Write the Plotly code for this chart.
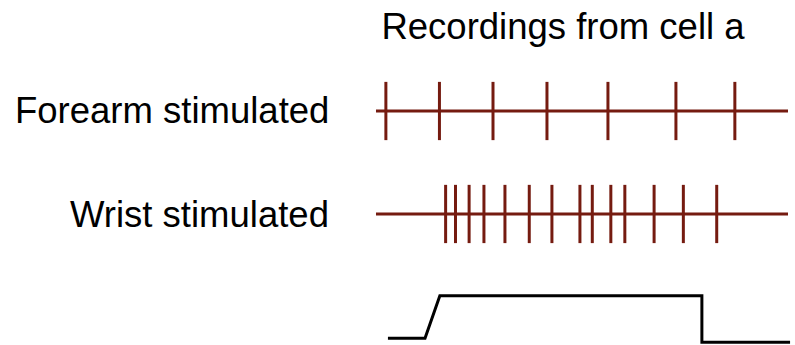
import plotly.graph_objects as go

# spike times (ms), trace runs 0..100 ms
trace_span = [0, 100]
forearm_spikes = [2.4, 15.4, 28.4, 41.5, 56.3, 72.8, 87.1]
wrist_spikes = [16.9, 19.3, 22.6, 26.2, 31.3, 37.2, 42.7, 49.5, 52.5,
                57.0, 60.4, 67.5, 74.6, 82.7]

# stimulus waveform (time, level)
stim_t = [2.9, 11.9, 15.5, 79.1, 79.1, 100.5]
stim_v = [0, 0, 1, 1, -0.095, -0.095]

title_text = "Recordings from cell a"
row_labels = ["Forearm stimulated", "Wrist stimulated"]

SPIKE = "#751b10"
FONT = "Liberation Sans, Arial, sans-serif"
FSIZE = 36.5


def spike_xy(times):
    xs, ys = [], []
    for t in times:
        xs += [t, t, None]
        ys += [-1, 1, None]
    return xs, ys


fig = go.Figure()

for spikes, yax in [(forearm_spikes, "y"), (wrist_spikes, "y2")]:
    fig.add_trace(go.Scatter(
        x=trace_span, y=[0, 0], mode="lines", yaxis=yax,
        line=dict(color=SPIKE, width=3), hoverinfo="skip"))
    sx, sy = spike_xy(spikes)
    fig.add_trace(go.Scatter(
        x=sx, y=sy, mode="lines", yaxis=yax,
        line=dict(color=SPIKE, width=3), hoverinfo="skip"))

fig.add_trace(go.Scatter(
    x=stim_t, y=stim_v, mode="lines", yaxis="y3",
    line=dict(color="black", width=3), hoverinfo="skip"))

hidden = dict(visible=False, showgrid=False, zeroline=False, fixedrange=True)

fig.update_layout(
    width=795, height=345,
    margin=dict(l=0, r=0, t=0, b=0),
    paper_bgcolor="white", plot_bgcolor="white",
    showlegend=False,
    font=dict(family=FONT, size=FSIZE, color="black"),
    xaxis=dict(range=[-91.26, 101.7], **hidden),
    yaxis=dict(domain=[0.5913, 0.7652], range=[-1.03, 1.03], **hidden),
    yaxis2=dict(domain=[0.2928, 0.4667], range=[-1.03, 1.03], **hidden),
    yaxis3=dict(domain=[0.0, 0.1675], range=[-0.16, 1.2], **hidden),
    title=dict(text=title_text, x=563 / 795, xanchor="center",
               y=1 - 26 / 345, yanchor="middle",
               font=dict(family=FONT, size=FSIZE, color="black")),
)

for label, yc in zip(row_labels, [111, 214]):
    fig.add_annotation(text=label, xref="paper", yref="paper",
                       x=331 / 795, xanchor="right",
                       y=1 - yc / 345, yanchor="middle",
                       showarrow=False,
                       font=dict(family=FONT, size=FSIZE, color="black"))

fig.write_html("out.html", config={"displayModeBar": False},
               post_script="document.body.style.margin='0';")
